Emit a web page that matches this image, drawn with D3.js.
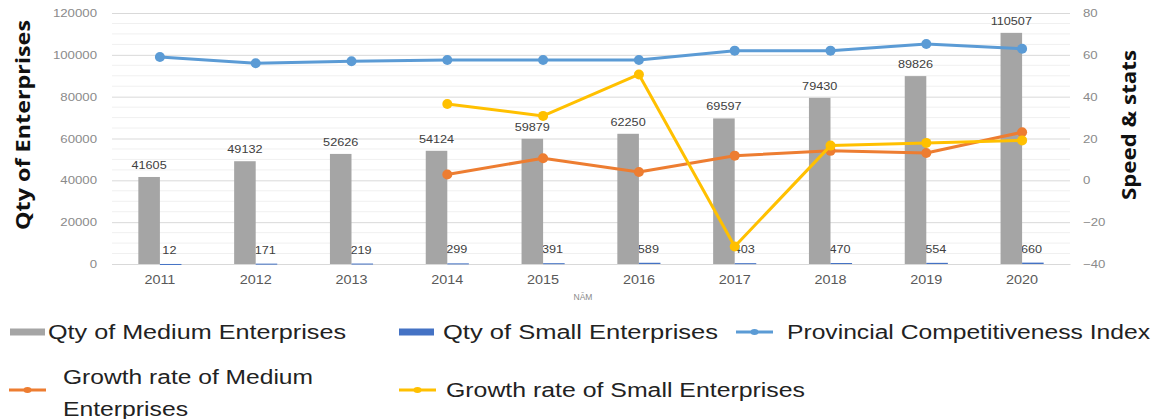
<!DOCTYPE html>
<html>
<head>
<meta charset="utf-8">
<script src="https://cdn.jsdelivr.net/npm/d3@7"></script>
<style>
  body { margin: 0; background: #fff; }
  svg { display: block; }
</style>
</head>
<body>
<svg id="chart" width="1158" height="419"></svg>
<script>
// ---- data ----
const years = ["2011", "2012", "2013", "2014", "2015", "2016", "2017", "2018", "2019", "2020"];
const mediumQty = [41605, 49132, 52626, 54124, 59879, 62250, 69597, 79430, 89826, 110507];
const smallQty = [12, 171, 219, 299, 391, 589, 403, 470, 554, 660];
const competitivenessIndex = [59.0, 56.0, 56.9, 57.5, 57.5, 57.5, 62.0, 62.0, 65.2, 62.9];
const growthMedium = [null, null, null, 2.8, 10.6, 4.0, 11.8, 14.1, 13.1, 23.0];
const growthSmall = [null, null, null, 36.5, 30.8, 50.6, -31.6, 16.6, 17.9, 19.1];
const leftTicks = [0, 20000, 40000, 60000, 80000, 100000, 120000];
const rightTicks = [-40, -20, 0, 20, 40, 60, 80];
const seriesNames = [
  "Qty of Medium Enterprises",
  "Qty of Small Enterprises",
  "Provincial Competitiveness Index",
  "Growth rate of Medium Enterprises",
  "Growth rate of Small Enterprises"
];

// ---- styling ----
const C = {
  medium: "#a5a5a5",
  small: "#4472c4",
  pci: "#5b9bd5",
  gMed: "#ed7d31",
  gSmall: "#ffc000",
  grid: "#d9d9d9",
  minor: "#f0f0f0",
  tick: "#8a8a8a",
  label: "#404040",
  title: "#111"
};

const svg = d3.select("#chart");
const plot = { left: 112, right: 1070, top: 13, bottom: 264 };

const x = d3.scaleBand().domain(years).range([plot.left, plot.right]);
const yL = d3.scaleLinear().domain([0, 120000]).range([plot.bottom, plot.top]);
const yR = d3.scaleLinear().domain([-40, 80]).range([plot.bottom, plot.top]);
const bw = x.bandwidth() * 0.225;
const cx = d => x(d) + x.bandwidth() / 2;

// widen glyphs horizontally by factor k
function widen(sel, k) {
  sel.each(function () {
    const w = this.getComputedTextLength();
    d3.select(this).attr("textLength", w * k).attr("lengthAdjust", "spacingAndGlyphs");
  });
}

// ---- gridlines ----
const minorTicks = d3.range(0, 120001, 5000).filter(v => v % 20000 !== 0);
svg.append("g").selectAll("line").data(minorTicks).join("line")
  .attr("x1", plot.left).attr("x2", plot.right)
  .attr("y1", d => yL(d)).attr("y2", d => yL(d))
  .attr("stroke", C.minor).attr("stroke-width", 1);

svg.append("g")
  .attr("transform", `translate(${plot.left},0)`)
  .call(d3.axisLeft(yL).tickValues(leftTicks).tickSize(-(plot.right - plot.left)).tickFormat(""))
  .call(g => g.select(".domain").remove())
  .call(g => g.selectAll("line").attr("stroke", C.grid));

// ---- left axis labels ----
const axL = svg.append("g")
  .attr("transform", `translate(${plot.left},0)`)
  .call(d3.axisLeft(yL).tickValues(leftTicks).tickSize(0).tickPadding(15).tickFormat(d3.format("d")))
  .call(g => g.select(".domain").remove());
axL.selectAll("text").attr("fill", C.tick).attr("font-size", 11).attr("font-family", "Liberation Sans, Arial, sans-serif");
widen(axL.selectAll("text"), 1.2);

// ---- right axis labels ----
const axR = svg.append("g")
  .attr("transform", `translate(${plot.right},0)`)
  .call(d3.axisRight(yR).tickValues(rightTicks).tickSize(0).tickPadding(13).tickFormat(d3.format("d")))
  .call(g => g.select(".domain").remove());
axR.selectAll("text").attr("fill", C.tick).attr("font-size", 11).attr("font-family", "Liberation Sans, Arial, sans-serif");
widen(axR.selectAll("text"), 1.2);

// ---- x axis ----
const axX = svg.append("g")
  .attr("transform", `translate(0,${plot.bottom})`)
  .call(d3.axisBottom(x).tickSize(0).tickPadding(11))
  .call(g => g.select(".domain").attr("stroke", C.grid));
axX.selectAll("text").attr("fill", "#595959").attr("font-size", 12).attr("font-family", "Liberation Sans, Arial, sans-serif");
widen(axX.selectAll("text"), 1.2);

svg.append("text")
  .attr("x", 583).attr("y", 300)
  .attr("text-anchor", "middle")
  .attr("font-size", 8.5).attr("fill", "#8a8a8a")
  .attr("font-family", "Liberation Sans, Arial, sans-serif")
  .text("NĂM");

// ---- small-enterprise value labels (sit just behind the medium bars) ----
const lblFont = "Liberation Sans, Arial, sans-serif";
const smLbl = svg.append("g").selectAll("text").data(years).join("text")
  .attr("x", d => cx(d) + 9.5)
  .attr("y", (d, i) => yL(smallQty[i]) - 10)
  .attr("text-anchor", "middle")
  .attr("font-size", 11).attr("fill", C.label).attr("font-family", lblFont)
  .text((d, i) => smallQty[i]);
widen(smLbl, 1.15);

// ---- bars ----
svg.append("g").selectAll("rect").data(years).join("rect")
  .attr("x", d => cx(d) - bw)
  .attr("y", (d, i) => yL(mediumQty[i]))
  .attr("width", bw)
  .attr("height", (d, i) => yL(0) - yL(mediumQty[i]))
  .attr("fill", C.medium);

svg.append("g").selectAll("rect").data(years).join("rect")
  .attr("x", d => cx(d))
  .attr("y", (d, i) => yL(smallQty[i]))
  .attr("width", bw)
  .attr("height", (d, i) => Math.max(1, yL(0) - yL(smallQty[i])))
  .attr("fill", C.small);

// ---- medium-enterprise value labels ----
const medLbl = svg.append("g").selectAll("text").data(years).join("text")
  .attr("x", d => cx(d) - bw / 2)
  .attr("y", (d, i) => yL(mediumQty[i]) - 8)
  .attr("text-anchor", "middle")
  .attr("font-size", 11).attr("fill", C.label).attr("font-family", lblFont)
  .text((d, i) => mediumQty[i]);
widen(medLbl, 1.15);

// ---- lines on right axis ----
function drawLine(values, color) {
  const pts = years.map((d, i) => ({ d, v: values[i] })).filter(p => p.v != null);
  const line = d3.line().x(p => cx(p.d)).y(p => yR(p.v));
  const g = svg.append("g");
  g.append("path").datum(pts)
    .attr("d", line)
    .attr("fill", "none").attr("stroke", color)
    .attr("stroke-width", 3).attr("stroke-linejoin", "round");
  g.selectAll("circle").data(pts).join("circle")
    .attr("cx", p => cx(p.d)).attr("cy", p => yR(p.v))
    .attr("r", 5).attr("fill", color);
}
drawLine(competitivenessIndex, C.pci);
drawLine(growthMedium, C.gMed);
drawLine(growthSmall, C.gSmall);

// ---- axis titles ----
svg.append("text")
  .attr("transform", "translate(30,125) rotate(-90)")
  .attr("text-anchor", "middle")
  .attr("font-size", 20).attr("font-weight", "bold")
  .attr("font-family", "Open Sans, Liberation Sans, sans-serif")
  .attr("fill", C.title)
  .attr("textLength", 210).attr("lengthAdjust", "spacingAndGlyphs")
  .text("Qty of Enterprises");

svg.append("text")
  .attr("transform", "translate(1136,125) rotate(-90)")
  .attr("text-anchor", "middle")
  .attr("font-size", 20).attr("font-weight", "bold")
  .attr("font-family", "Open Sans, Liberation Sans, sans-serif")
  .attr("fill", C.title)
  .attr("textLength", 150).attr("lengthAdjust", "spacingAndGlyphs")
  .text("Speed & stats");

// ---- legend ----
const legFont = "Liberation Sans, Arial, sans-serif";
const legend = svg.append("g").attr("font-family", legFont).attr("font-size", 20).attr("fill", "#222");

function legendText(x0, y0, str, len) {
  legend.append("text").attr("x", x0).attr("y", y0)
    .attr("textLength", len).attr("lengthAdjust", "spacingAndGlyphs")
    .text(str);
}
function legendBar(x0, y0, color) {
  legend.append("rect").attr("x", x0).attr("y", y0 - 3.5).attr("width", 35).attr("height", 7).attr("fill", color);
}
function legendLine(x0, y0, color) {
  legend.append("line").attr("x1", x0).attr("x2", x0 + 37).attr("y1", y0).attr("y2", y0)
    .attr("stroke", color).attr("stroke-width", 3);
  legend.append("ellipse").attr("cx", x0 + 18.5).attr("cy", y0).attr("rx", 4).attr("ry", 3).attr("fill", color);
}

legendBar(10, 332, C.medium);
legendText(48, 339, seriesNames[0], 298);
legendBar(399, 332, C.small);
legendText(443, 339, seriesNames[1], 275);
legendLine(736, 332, C.pci);
legendText(787, 339, seriesNames[2], 363);

legendLine(9, 390, C.gMed);
legendText(63, 384, "Growth rate of Medium", 250);
legendText(63, 416, "Enterprises", 125);
legendLine(399, 390, C.gSmall);
legendText(446, 397, seriesNames[4], 359);
</script>
</body>
</html>
